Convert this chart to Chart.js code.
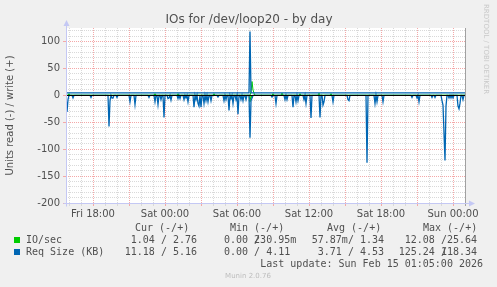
<!DOCTYPE html>
<html>
<head>
<meta charset="utf-8">
<script src="https://cdn.jsdelivr.net/npm/chart.js@4"></script>
<style>
  html, body { margin: 0; padding: 0; background: #f0f0f0; }
  canvas { display: block; }
</style>
</head>
<body>
<canvas id="graph1" width="497" height="287"></canvas>
<script>
// hours relative to Fri 18:00, one sample every 5 minutes
var startHour = -2.25;
var endHour = 31.0833;
var tickHours = [0, 6, 12, 18, 24, 30];
var tickLabels = ['Fri 18:00', 'Sat 00:00', 'Sat 06:00', 'Sat 12:00', 'Sat 18:00', 'Sun 00:00'];

// Req Size (KB), read side (drawn negative)
var reqReadHours = [-2.17, -2.08, -1.67, -0.17, 1.33, 1.42, 1.58, 1.67, 2.00, 3.08, 3.50, 4.67,
  5.17, 5.42, 5.67, 5.92, 6.25, 6.33, 6.50, 7.08, 7.25, 7.58, 7.75, 7.92, 8.42, 8.58, 8.75,
  8.83, 9.00, 9.25, 9.42, 9.58, 9.83, 10.42, 10.92, 11.08, 11.33, 11.50, 11.67, 11.92, 12.08,
  12.33, 12.50, 12.75, 13.08, 13.17, 13.25, 14.92, 15.25, 16.00, 16.17, 16.67, 16.92, 17.08,
  17.58, 17.75, 18.17, 18.92, 19.17, 19.25, 20.00, 21.25, 21.33, 22.83, 23.50, 23.67, 24.17,
  26.58, 27.00, 27.17, 28.25, 28.50, 29.08, 29.17, 29.25, 29.33, 29.42, 29.67, 29.83, 30.00,
  30.42, 30.50, 30.58, 30.83];
var reqReadValues = [-31, -8, -5, -4, -58, -10, -5, -5, -4, -12, -17, -4,
  -12, -17, -8, -41, -6, -5, -9, -6, -6, -8, -5, -12, -22, -8, -15,
  -20, -22, -15, -10, -12, -10, -3, -10, -8, -28, -6, -15, -8, -35,
  -8, -10, -8, -79, -10, -5, -3, -15, -8, -8, -22, -12, -10,
  -8, -15, -42, -41, -18, -12, -12, -8, -10, -125, -15, -12, -12,
  -4, -5, -12, -4, -4, -10, -18, -70, -121, -20, -5, -5, -5,
  -20, -25, -15, -8];

// Req Size (KB), write side
var reqWriteBase = 4.5;
var reqWriteHours = [13.08];
var reqWriteValues = [118.3];

// IO/sec
var ioWriteBase = 0;
var ioWriteHours = [-2.00, 5.17, 7.08, 10.08, 13.17, 13.25, 13.33, 13.42, 15.00, 15.75, 17.25, 18.83, 19.83];
var ioWriteValues = [3, 3, 3, 3, 6, 25.6, 10, 4, 3, 4, 3, 4, 3];
var ioReadHours = [13.08, 13.25];
var ioReadValues = [-12.1, -5];

// legend table
var seriesNames = ['IO/sec', 'Req Size (KB)'];
var seriesColors = ['#00cc00', '#0066b3'];
var curText = ['1.04 / 2.76', '11.18 / 5.16'];
var minText = ['0.00 /230.95m', '0.00 / 4.11'];
var avgText = ['57.87m/ 1.34', '3.71 / 4.53'];
var maxText = ['12.08 /25.64', '125.24 /118.34'];

function buildSeries(base, hours, values) {
  var n = Math.round((endHour - startHour) * 12);
  var pts = [];
  for (var i = 0; i <= n; i++) {
    pts.push({ x: startHour + i / 12, y: base });
  }
  hours.forEach(function (h, k) {
    var i = Math.round((h - startHour) * 12);
    pts[i].y = values[k];
  });
  return pts;
}

function isMult(v, m) {
  return Math.abs(v / m - Math.round(v / m)) < 1e-6;
}

var gray = '#d9d9d9';
var red = '#f4a8a8';
var textColor = '#505050';
var axisColor = '#c4c8f4';
var mono = '"DejaVu Sans Mono", monospace';
var sans = '"DejaVu Sans", sans-serif';

// draws a legend cell; a long write value overlaps the slash like rrdtool does
function drawCell(ctx, text, x, alignRight) {
  var cw = ctx.measureText('0').width;
  var visible = text.length >= 13 ? text.length - 1 : text.length;
  var x0 = alignRight ? x - visible * cw : x;
  if (text.length >= 13) {
    var p = text.indexOf('/');
    ctx.fillText(text.slice(0, p + 1), x0, 0);
    ctx.fillText(text.slice(p + 1), x0 + p * cw, 0);
  } else {
    ctx.fillText(text, x0, 0);
  }
}

var muninLook = {
  id: 'muninLook',
  beforeDraw: function (chart) {
    var ctx = chart.ctx, a = chart.chartArea;
    ctx.save();
    ctx.fillStyle = '#f0f0f0';
    ctx.fillRect(0, 0, chart.width, chart.height);
    ctx.fillStyle = '#ffffff';
    ctx.fillRect(a.left, a.top, a.right - a.left, a.bottom - a.top);
    ctx.restore();
  },
  afterDatasetsDraw: function (chart) {
    var ctx = chart.ctx, a = chart.chartArea;
    var y0 = Math.round(chart.scales.y.getPixelForValue(0)) + 0.5;
    ctx.save();
    ctx.lineWidth = 1;
    // zero rule
    ctx.strokeStyle = '#000000';
    ctx.beginPath();
    ctx.moveTo(a.left, y0);
    ctx.lineTo(a.right, y0);
    ctx.stroke();
    // right edge marker
    ctx.strokeStyle = '#a0a0a0';
    ctx.beginPath();
    ctx.moveTo(a.right - 0.5, a.top);
    ctx.lineTo(a.right - 0.5, a.bottom + 3);
    ctx.stroke();
    // axes with arrows
    var ax = a.left + 0.5, ay = a.bottom + 0.5;
    ctx.strokeStyle = axisColor;
    ctx.fillStyle = axisColor;
    ctx.beginPath();
    ctx.moveTo(ax, ay + 3);
    ctx.lineTo(ax, a.top - 4);
    ctx.moveTo(ax - 3, ay);
    ctx.lineTo(a.right + 5, ay);
    ctx.stroke();
    ctx.beginPath();
    ctx.moveTo(ax, a.top - 8);
    ctx.lineTo(ax - 3, a.top - 2);
    ctx.lineTo(ax + 3, a.top - 2);
    ctx.fill();
    ctx.beginPath();
    ctx.moveTo(a.right + 9, ay);
    ctx.lineTo(a.right + 3, ay - 3);
    ctx.lineTo(a.right + 3, ay + 3);
    ctx.fill();
    ctx.restore();
  },
  afterDraw: function (chart) {
    var ctx = chart.ctx;
    ctx.save();
    // title
    ctx.fillStyle = textColor;
    ctx.font = '12px ' + sans;
    ctx.textAlign = 'center';
    ctx.textBaseline = 'alphabetic';
    ctx.fillText('IOs for /dev/loop20 - by day', 249, 23);

    // vertical credit on the right
    ctx.save();
    ctx.translate(484, 4);
    ctx.rotate(Math.PI / 2);
    ctx.fillStyle = '#c8c8c8';
    ctx.font = '7px ' + sans;
    ctx.textAlign = 'left';
    ctx.fillText('RRDTOOL / TOBI OETIKER', 0, 0);
    ctx.restore();

    // legend
    ctx.font = '10px ' + mono;
    ctx.textAlign = 'left';
    ctx.fillStyle = textColor;
    var heads = ['Cur (-/+)', 'Min (-/+)', 'Avg (-/+)', 'Max (-/+)'];
    var headX = [135, 230, 327, 423];
    heads.forEach(function (h, i) { ctx.fillText(h, headX[i], 231); });
    var rowY = [243, 255];
    seriesNames.forEach(function (name, r) {
      ctx.fillStyle = seriesColors[r];
      ctx.fillRect(14, rowY[r] - 6, 6, 6);
      ctx.fillStyle = textColor;
      ctx.fillText(name, 26, rowY[r]);
      ctx.save();
      ctx.translate(0, rowY[r]);
      drawCell(ctx, curText[r], 197, true);
      drawCell(ctx, minText[r], 224, false);
      drawCell(ctx, avgText[r], 384, true);
      drawCell(ctx, maxText[r], 477, true);
      ctx.restore();
    });
    ctx.textAlign = 'right';
    ctx.fillText('Last update: Sun Feb 15 01:05:00 2026', 483, 267);

    ctx.textAlign = 'center';
    ctx.fillStyle = '#bdbdbd';
    ctx.font = '7px ' + sans;
    ctx.fillText('Munin 2.0.76', 248, 278);
    ctx.restore();
  }
};

var context = document.getElementById('graph1').getContext('2d');
var chart = new Chart(context, {
  type: 'line',
  data: {
    datasets: [
      { label: 'Req Size write', data: buildSeries(reqWriteBase, reqWriteHours, reqWriteValues), borderColor: '#0066b3' },
      { label: 'Req Size read', data: buildSeries(0, reqReadHours, reqReadValues), borderColor: '#0066b3' },
      { label: 'IO/sec write', data: buildSeries(ioWriteBase, ioWriteHours, ioWriteValues), borderColor: '#00cc00', borderWidth: 1 },
      { label: 'IO/sec read', data: buildSeries(0, ioReadHours, ioReadValues), borderColor: '#00cc00', borderWidth: 1 }
    ]
  },
  options: {
    responsive: false,
    animation: false,
    layout: { padding: { left: 0, top: 28, right: 31, bottom: 64 } },
    elements: {
      point: { radius: 0 },
      line: { borderWidth: 1.3, tension: 0, fill: false }
    },
    plugins: {
      legend: { display: false },
      tooltip: { enabled: false }
    },
    scales: {
      x: {
        type: 'linear',
        min: startHour,
        max: endHour,
        afterBuildTicks: function (scale) {
          var t = [];
          for (var h = Math.ceil(startHour); h <= Math.floor(endHour); h++) t.push({ value: h });
          scale.ticks = t;
        },
        afterFit: function (scale) { scale.height = 20; },
        grid: {
          color: function (c) { return isMult(c.tick.value, 3) ? red : gray; },
          tickColor: function (c) { return isMult(c.tick.value, 3) ? red : gray; },
          tickLength: 3
        },
        border: { display: false, dash: [1, 1] },
        ticks: {
          autoSkip: false,
          maxRotation: 0,
          padding: 2,
          color: textColor,
          font: { family: sans, size: 10 },
          callback: function (v) {
            var i = tickHours.indexOf(Math.round(v));
            return (i >= 0 && isMult(v, 1)) ? tickLabels[i] : '';
          }
        }
      },
      y: {
        min: -200,
        max: 125,
        afterBuildTicks: function (scale) {
          var t = [];
          for (var v = -200; v <= 120; v += 10) t.push({ value: v });
          scale.ticks = t;
        },
        afterFit: function (scale) { scale.width = 66; },
        grid: {
          color: function (c) { return isMult(c.tick.value, 50) ? red : gray; },
          tickColor: function (c) { return isMult(c.tick.value, 50) ? red : 'rgba(0,0,0,0)'; },
          tickLength: 3
        },
        border: { display: false, dash: [1, 1] },
        title: {
          display: true,
          text: 'Units read (-) / write (+)',
          color: textColor,
          font: { family: sans, size: 10 },
          padding: { top: 4, bottom: 0 }
        },
        ticks: {
          autoSkip: false,
          padding: 3,
          color: textColor,
          font: { family: sans, size: 10 },
          callback: function (v) { return isMult(v, 50) ? String(v) : ''; }
        }
      }
    }
  },
  plugins: [muninLook]
});
</script>
</body>
</html>
